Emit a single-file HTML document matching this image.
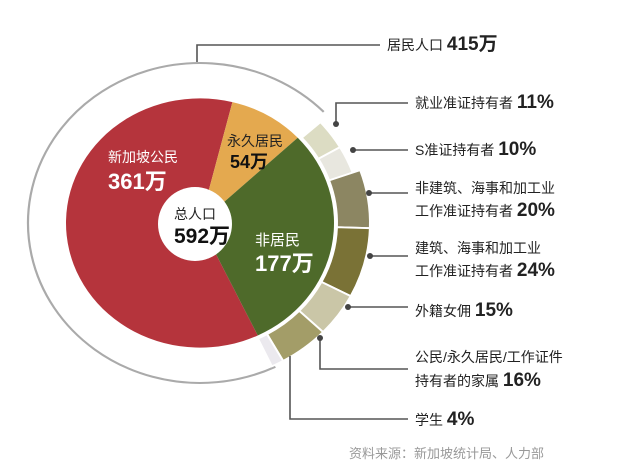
<!DOCTYPE html>
<html><head><meta charset="utf-8"><style>
body{margin:0;background:#fff;}
svg{display:block;font-family:"Liberation Sans","Noto Sans CJK SC",sans-serif;}
</style></head><body>
<svg width="637" height="473" viewBox="0 0 637 473">
<g id="pie" transform="translate(200,223) scale(1,0.93)"></g>
<circle cx="195" cy="224" r="37" fill="#fff"/>
<g font-size="14">
<text x="108" y="162" fill="#fff">新加坡公民</text>
<text x="108" y="189" fill="#fff" font-size="22" font-weight="bold">361万</text>
<text x="227" y="146" fill="#222">永久居民</text>
<text x="230" y="168" fill="#111" font-size="18" font-weight="bold">54万</text>
<text x="174" y="219" fill="#222">总人口</text>
<text x="174" y="243" fill="#111" font-size="21" font-weight="bold">592万</text>
<text x="255" y="245" fill="#fff" font-size="15">非居民</text>
<text x="255" y="271" fill="#fff" font-size="22" font-weight="bold">177万</text>
</g>
<g stroke="#555" stroke-width="1.6" fill="none">
<polyline points="197,62 197,45 380,45"/>
<polyline points="336,124 336,103 408,103"/>
<polyline points="353,150 408,150"/>
<polyline points="369,193 408,193"/>
<polyline points="370,256 408,256"/>
<polyline points="348,307 408,307"/>
<polyline points="320,338 320,369 408,369"/>
<polyline points="290,356 290,419 408,419"/>
</g>
<g fill="#444">
<circle cx="336" cy="124" r="3"/><circle cx="353" cy="150" r="3"/><circle cx="369" cy="193" r="3"/>
<circle cx="370" cy="256" r="3"/><circle cx="348" cy="307" r="3"/><circle cx="320" cy="338" r="3"/>
</g>
<g font-size="14" fill="#222">
<text x="387" y="50">居民人口 <tspan font-size="19" font-weight="bold">415万</tspan></text>
<text x="415" y="108">就业准证持有者 <tspan font-size="19" font-weight="bold">11%</tspan></text>
<text x="415" y="155">S准证持有者 <tspan font-size="19" font-weight="bold">10%</tspan></text>
<text x="415" y="193">非建筑、海事和加工业</text>
<text x="415" y="216">工作准证持有者 <tspan font-size="19" font-weight="bold">20%</tspan></text>
<text x="415" y="253">建筑、海事和加工业</text>
<text x="415" y="276">工作准证持有者 <tspan font-size="19" font-weight="bold">24%</tspan></text>
<text x="415" y="316">外籍女佣 <tspan font-size="19" font-weight="bold">15%</tspan></text>
<text x="415" y="362">公民/永久居民/工作证件</text>
<text x="415" y="386">持有者的家属 <tspan font-size="19" font-weight="bold">16%</tspan></text>
<text x="415" y="425">学生 <tspan font-size="19" font-weight="bold">4%</tspan></text>
</g>
<text x="349" y="458" font-size="13" fill="#999">资料来源：新加坡统计局、人力部</text>
</svg>
<script>
const innerCategories=["新加坡公民","永久居民","非居民"];
const innerValues=[361,54,177];
const outerCategories=["就业准证","S准证","非建筑工作准证","建筑工作准证","外籍女佣","家属","学生"];
const outerValues=[11,10,20,24,15,16,4];
const innerColors=["#b5343c","#e4a94f","#4e6a2a"];
const outerColors=["#dcdcc3","#e8e7df","#8c8662","#7a7236","#cac6a7","#a39d68","#ebe9ee"];
const NS="http://www.w3.org/2000/svg";
const g=document.getElementById("pie");
function pt(r,a){const t=(a-90)*Math.PI/180;return [r*Math.cos(t),r*Math.sin(t)];}
function sector(r0,r1,a0,a1){
  const l=a1-a0>180?1:0;const p1=pt(r1,a0),p2=pt(r1,a1);
  if(r0===0)return `M0,0L${p1}A${r1},${r1} 0 ${l} 1 ${p2}Z`;
  const p3=pt(r0,a1),p4=pt(r0,a0);
  return `M${p1}A${r1},${r1} 0 ${l} 1 ${p2}L${p3}A${r0},${r0} 0 ${l} 0 ${p4}Z`;
}
// resident ring arc
const ring=document.createElementNS(NS,"path");
ring.setAttribute("d",`M${pt(172,154)}A172,172 0 1 1 ${pt(172,46)}`);
ring.setAttribute("fill","none");ring.setAttribute("stroke","#aaa");ring.setAttribute("stroke-width","2.2");


g.appendChild(ring);
const tot=innerValues.reduce((a,b)=>a+b,0);
let a=14-innerValues[0]/tot*360;
innerValues.forEach((v,i)=>{
  const s=v/tot*360;const p=document.createElementNS(NS,"path");
  p.setAttribute("d",sector(0,134,a,a+s));p.setAttribute("fill",innerColors[i]);
  
  
  g.appendChild(p);a+=s;
});
const ot=outerValues.reduce((x,y)=>x+y,0);
let b=48;const span=107;
outerValues.forEach((v,i)=>{
  const s=v/ot*span;const p=document.createElementNS(NS,"path");
  p.setAttribute("d",sector(137,i<2?162:170,b,b+s));p.setAttribute("fill",outerColors[i]);
  p.setAttribute("stroke","#fff");p.setAttribute("stroke-width","2");
  
  
  g.appendChild(p);b+=s;
});
</script>
</body></html>
